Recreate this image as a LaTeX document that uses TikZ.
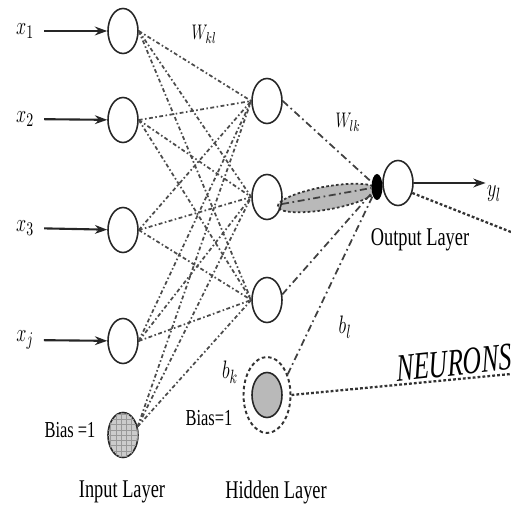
\documentclass[tikz,border=0pt]{standalone}
\usepackage{fontspec}
\setmainfont{Liberation Serif}
\usetikzlibrary{shapes.geometric,arrows.meta,patterns}
\begin{document}
\begin{tikzpicture}[x=0.02cm,y=-0.02cm,neuron/.style={ellipse, draw=black!85, line width=0.9pt, minimum width=0.6cm, minimum height=0.9cm, inner sep=0pt},inbias/.style={neuron, fill=gray!40, postaction={pattern=grid, pattern color=gray!80}},hidbias/.style={neuron, fill=gray!55},ring/.style={ellipse, draw=black!80, line width=1.1pt, dash pattern=on 2pt off 1.6pt, minimum width=0.94cm, minimum height=1.52cm, inner sep=0pt},blob/.style={ellipse, fill=black, minimum width=0.22cm, minimum height=0.52cm, inner sep=0pt},sheath/.style={ellipse, fill=gray!55, draw=black!80, line width=1pt, dash pattern=on 1.5pt off 1.3pt, minimum width=2cm, minimum height=0.46cm, inner sep=0pt},lab/.style={font=\fontsize{13}{15}\selectfont, xscale=0.72, inner sep=1pt},mlab/.style={font=\fontsize{15}{17}\selectfont, xscale=0.72, inner sep=1pt},layer/.style={font=\fontsize{14.5}{16}\selectfont, xscale=0.72},inline/.style={black!70, line width=1pt, dash pattern=on 2.2pt off 1.4pt on 0.9pt off 1.4pt},hline/.style={black!75, line width=1pt, dash pattern=on 4pt off 2pt on 1pt off 2pt},callout/.style={black!80, line width=1.3pt, dash pattern=on 1.6pt off 1.2pt},arr/.style={-{Stealth[length=7pt,width=5pt]}, line width=1.2pt, black!85}]
\useasboundingbox (0,0) rectangle (511,509);
\node[neuron] (i1) at (123,31) {}; \node[neuron] (i2) at (123,120) {}; \node[neuron] (i3) at (123,230) {}; \node[neuron] (ij) at (123,341) {}; \node[inbias] (ib) at (123,435) {};
\node[sheath, rotate=10] (sh) at (327,198) {};
\node[neuron] (h1) at (267,101) {}; \node[neuron] (h2) at (267,197) {}; \node[neuron] (h3) at (267,300) {};
\node[hidbias] (hb) at (267,395) {}; \node[ring] (hring) at (267,395) {};
\node[neuron] (o) at (398,183) {}; \node[blob] (bl) at (377,187) {};
\foreach \i in {i1,i2,i3,ij} {\foreach \h in {h1,h2,h3} {\draw[inline] (\i.east) -- (\h.west);}}
\foreach \h in {h1,h2,h3} {\draw[inline] (ib.30) -- (\h.west);}
\draw[hline] (h1.east) -- (bl); \draw[hline] (h2.-25) -- (bl); \draw[hline] (h3.20) -- (bl); \draw[hline] (hring.45) -- (bl);
\node[mlab] (lx1) at (25,31) {$x_1$}; \node[mlab] (lx2) at (25,119) {$x_2$}; \node[mlab] (lx3) at (25,228) {$x_3$}; \node[mlab] (lxj) at (25,340) {$x_j$};
\draw[arr, shorten <=5pt] (lx1) -- (i1); \draw[arr, shorten <=5pt] (lx2) -- (i2); \draw[arr, shorten <=5pt] (lx3) -- (i3); \draw[arr, shorten <=5pt] (lxj) -- (ij);
\node[mlab] (ly) at (494,194) {$y_l$}; \draw[arr] (o.east) -- (o.east -| ly.west);
\node[lab] (wkl) at (204,34) {$W_{kl}$}; \node[lab] (wlk) at (348,122) {$W_{lk}$};
\node[mlab] (bl1) at (345,327) {$b_l$}; \node[mlab] (bk) at (230,372) {$b_k$};
\node[lab] (bias1) at (70,430) {Bias =1}; \node[lab] (bias2) at (209,418) {Bias=1};
\coordinate (e1) at (511,232); \coordinate (e2) at (511,374);
\draw[callout] (o.-35) -- (e1); \draw[callout] (hring.east) -- (e2);
\node[font=\fontsize{22}{24}\selectfont\itshape, xscale=0.66, rotate=4] (neu) at (454,363) {NEURONS};
\node[layer] (inl) at (122,492) {Input Layer}; \node[layer] (hidl) at (276,492) {Hidden Layer}; \node[layer] (outl) at (420,240) {Output Layer};
\end{tikzpicture}
\end{document}
